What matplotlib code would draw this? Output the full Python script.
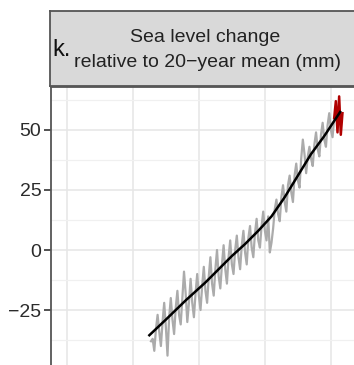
import numpy as np
import matplotlib.pyplot as plt

plt.rcParams['font.family'] = ['Liberation Sans', 'DejaVu Sans']

# --------------------------
# Data
# --------------------------

# observed sea level (grey), quarterly
obs_year = np.arange(1992.75, 2020.51, 0.25)
obs_mm = [
    -38,
    -37, -42, -33, -27,
    -34, -40, -30, -22,
    -32, -44, -28, -20,
    -29, -35, -24, -17,
    -27, -31, -20, -9,
    -18, -30, -22, -12,
    -22, -28, -18, -10,
    -19, -25, -15, -7,
    -17, -22, -11, -3,
    -14, -19, -8, 0,
    -11, -16, -6, 2,
    -8, -14, -3, 4,
    -6, -10, 0, 6,
    -3, -8, 2, 8,
    -1, -6, 5, 10,
    1, -3, 7, 13,
    4, 1, 10, 16,
    8, 4, 14, -1,
    3, 9, 17, 21,
    15, 12, 22, 27,
    20, 16, 27, 31,
    24, 20, 31, 36,
    29, 26, 38, 46,
    40, 32, 39, 43,
    38, 35, 44, 49,
    42, 39, 48, 53,
    46, 43, 52, 57,
    50, 47, 55,
]

# recent observations (red)
recent_year = [2020.5, 2020.75, 2021.0, 2021.25, 2021.5, 2021.75]
recent_mm = [55, 62, 49, 64, 48, 57]

# smoothed trend (black)
trend_year = [1992.5, 1995, 1998, 2001, 2003, 2005, 2007, 2009, 2011, 2013,
              2015, 2017, 2019, 2021.4]
trend_mm = [-35.5, -29, -21, -13.5, -8, -2.5, 2.5, 8, 14, 22,
            31, 40, 47.5, 57.5]

# --------------------------
# Figure
# --------------------------

fig = plt.figure(figsize=(3.54, 3.65), dpi=100)
ax = fig.add_axes([0.144, 0.0, 0.856, 0.7616])

ax.plot(obs_year, obs_mm, color="#ababab", lw=1.6, zorder=2)
ax.plot(recent_year, recent_mm, color="#b00000", lw=1.8, zorder=3)
ax.plot(trend_year, trend_mm, color="black", lw=1.8, zorder=4)

ax.set_xlim(1977.6, 2023.5)
ax.set_ylim(-47.9, 67.9)

ax.set_yticks([-25, 0, 25, 50])
ax.set_yticklabels(["\u221225", "0", "25", "50"])
ax.set_yticks([-37.5, -12.5, 12.5, 37.5, 62.5], minor=True)
ax.set_xticks([1980, 1990, 2000, 2010, 2020])
ax.set_xticklabels([])
ax.tick_params(axis="x", length=0)
ax.tick_params(axis="y", which="major", length=5, width=1.2,
               color="#333333", labelsize=14, labelcolor="#2b2b2b", pad=2)
ax.tick_params(axis="y", which="minor", length=0)

ax.grid(True, which="major", color="#e6e6e6", lw=1.1)
ax.grid(True, which="minor", axis="y", color="#f0f0f0", lw=0.9)
ax.set_axisbelow(True)
for s in ax.spines.values():
    s.set_color("#555555")
    s.set_linewidth(1.3)
ax.spines["bottom"].set_visible(False)
ax.spines["right"].set_visible(False)

# strip
strip = fig.add_axes([0.1413, 0.7644, 0.87, 0.2055])
strip.set_facecolor("#d9d9d9")
strip.set_xticks([])
strip.set_yticks([])
for s in strip.spines.values():
    s.set_color("#555555")
    s.set_linewidth(1.3)

fig.text(0.579, 0.896, "Sea level change", ha="center", va="center",
         fontsize=14, color="#222222")
fig.text(0.585, 0.83, "relative to 20\u2212year mean (mm)", ha="center",
         va="center", fontsize=14, color="#222222")
fig.text(0.147, 0.862, "k.", ha="left", va="center", fontsize=17,
         color="#111111")

fig.savefig("out.png", dpi=100)
